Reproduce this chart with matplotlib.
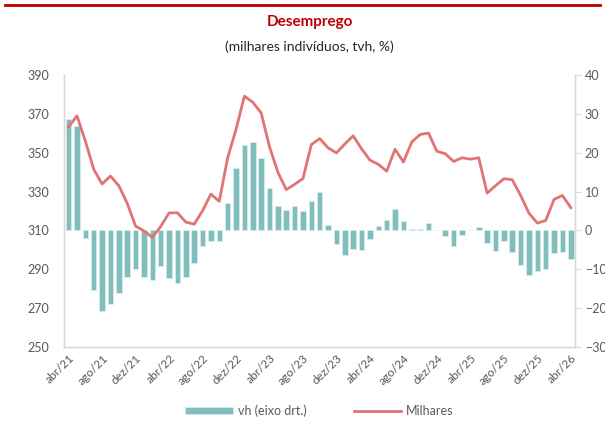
import matplotlib
matplotlib.use("Agg")
import matplotlib.pyplot as plt
from matplotlib.lines import Line2D

plt.rcParams['font.family'] = ['Lato', 'DejaVu Sans']

# monthly, abr/21 .. abr/26
meses = ['jan', 'fev', 'mar', 'abr', 'mai', 'jun', 'jul', 'ago', 'set', 'out', 'nov', 'dez']
labels = []
for ano in range(21, 27):
    for m in meses:
        labels.append(f"{m}/{ano}")
labels = labels[3:3 + 61]

# vh (%), right axis
vh = [28.7, 26.8, -1.9, -15.3, -20.8, -19.0, -16.0, -12.0, -10.0, -12.0,
      -12.8, -9.2, -12.3, -13.5, -12.0, -8.5, -4.1, -2.8, -2.6, 7.0,
      16.1, 22.1, 22.7, 18.7, 10.8, 6.3, 5.3, 6.3, 5.0, 7.5,
      9.8, 1.4, -3.6, -6.4, -4.7, -5.0, -2.2, 1.1, 2.6, 5.4,
      2.3, 0.3, 0.3, 2.0, 0.1, -1.5, -3.9, -1.3, 0.1, 0.8,
      -3.3, -5.4, -2.6, -5.6, -8.8, -11.4, -10.5, -9.9, -5.7, -5.6,
      -7.3]

# milhares, left axis
milhares = [363.2, 369.0, 356.0, 341.5, 333.9, 338.0, 333.0, 324.0, 312.2, 309.8,
            306.4, 312.0, 319.0, 319.1, 314.3, 313.2, 320.1, 328.7, 325.0, 347.3,
            362.0, 379.1, 376.0, 370.5, 353.1, 340.0, 331.0, 333.7, 336.7, 354.2,
            357.3, 352.5, 349.9, 354.5, 358.7, 352.0, 346.2, 344.0, 340.5, 351.8,
            345.2, 355.5, 359.4, 360.1, 350.7, 349.5, 345.5, 347.4, 346.7, 347.4,
            329.2, 333.0, 336.6, 336.1, 328.0, 318.9, 313.8, 315.1, 326.0, 328.0,
            321.7]

bar_color = '#80BDBD'
line_color = '#E07474'
txt_color = '#595959'
spine_color = '#D9D9D9'

x = list(range(len(labels)))

fig = plt.figure(figsize=(6.05, 4.21), dpi=100)
ax = fig.add_axes([64 / 605, 1 - 347 / 421, (575 - 64) / 605, (347 - 75) / 421])
ax2 = ax.twinx()

ax2.bar(x, vh, width=0.66, color=bar_color, edgecolor='#DDEFEF', linewidth=0.5,
        label='vh (eixo drt.)')
ax.plot(x, milhares, color=line_color, lw=2.0, label='Milhares')

ax.set_zorder(ax2.get_zorder() + 1)
ax.patch.set_visible(False)

ax.set_xlim(-0.55, 60.5)
ax.set_ylim(250, 390)
ax.set_yticks(range(250, 391, 20))
ax2.set_ylim(-30, 40)
ax2.set_yticks(range(-30, 41, 10))

ax.set_xticks(x[::4])
ax.set_xticklabels(labels[::4], rotation=45, ha='right', rotation_mode='anchor',
                   fontsize=8.5, color=txt_color)
ax.tick_params(axis='x', length=0, pad=4)
ax.tick_params(axis='y', length=0, pad=11, labelsize=9, labelcolor=txt_color)
ax2.tick_params(axis='y', length=4, width=0.8, color=spine_color, pad=3,
                labelsize=9, labelcolor=txt_color)

for a in (ax, ax2):
    a.spines['top'].set_visible(False)
    for s in ('left', 'right', 'bottom'):
        a.spines[s].set_color(spine_color)
        a.spines[s].set_linewidth(1.0)

# top rule and titles
fig.add_artist(Line2D([5 / 605, 600 / 605], [1 - 5 / 421, 1 - 5 / 421],
                      color='#C00000', lw=2.0, transform=fig.transFigure))
fig.text(0.512, 1 - 22 / 421, 'Desemprego', ha='center', va='center',
         fontsize=11, fontweight='bold', color='#C00000')
fig.text(0.512, 1 - 47 / 421, '(milhares indivíduos, tvh, %)', ha='center',
         va='center', fontsize=10, color='#262626')

h1, l1 = ax2.get_legend_handles_labels()
h2, l2 = ax.get_legend_handles_labels()
leg = fig.legend(h1 + h2, l1 + l2, loc='center', bbox_to_anchor=(0.528, 1 - 411 / 421),
                 ncol=2, frameon=False, fontsize=9, handlelength=3.8,
                 handleheight=0.45, columnspacing=3.8, handletextpad=0.4)
for t in leg.get_texts():
    t.set_color(txt_color)

fig.savefig('out.png', dpi=100)
